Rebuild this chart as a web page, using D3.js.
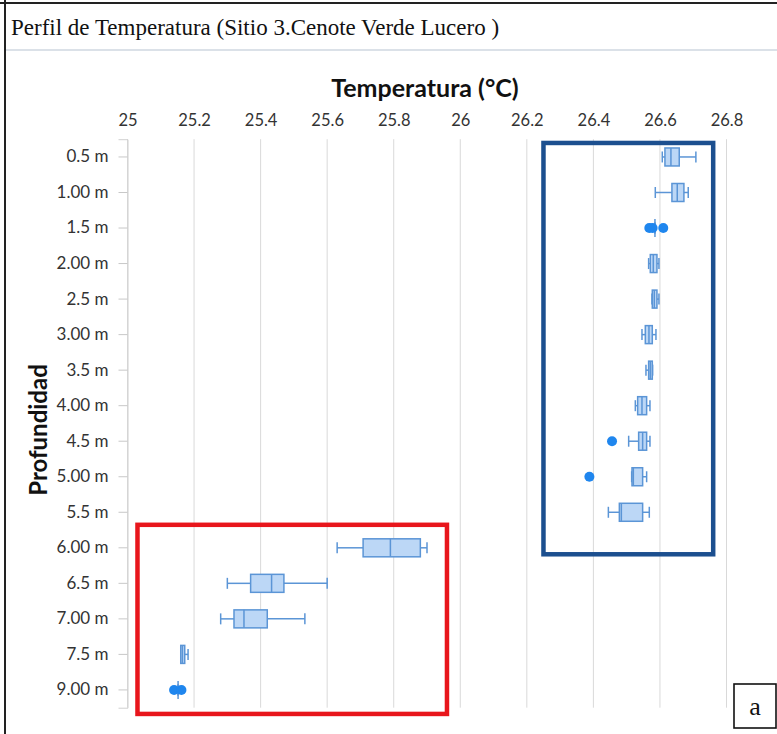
<!DOCTYPE html>
<html>
<head>
<meta charset="utf-8">
<script src="https://cdn.jsdelivr.net/npm/d3@7"></script>
<style>
  html, body { margin: 0; padding: 0; background: #fff; }
  svg { display: block; }
</style>
</head>
<body>
<svg id="chart" width="777" height="734"></svg>
<script>
// ---- Data ----
const categories = ["0.5 m","1.00 m","1.5 m","2.00 m","2.5 m","3.00 m","3.5 m","4.00 m","4.5 m","5.00 m","5.5 m","6.00 m","6.5 m","7.00 m","7.5 m","9.00 m"];
const whiskerLow  = [26.607, 26.586, 26.585, 26.566, 26.576, 26.546, 26.558, 26.526, 26.506, 26.515, 26.445, 25.630, 25.300, 25.280, 25.160, 25.152];
const q1          = [26.615, 26.636, 26.585, 26.571, 26.577, 26.556, 26.566, 26.533, 26.536, 26.516, 26.478, 25.708, 25.370, 25.320, 25.160, 25.152];
const median      = [26.633, 26.652, 26.585, 26.580, 26.583, 26.567, 26.571, 26.546, 26.548, 26.520, 26.484, 25.790, 25.433, 25.350, 25.165, 25.152];
const q3          = [26.658, 26.672, 26.585, 26.591, 26.591, 26.577, 26.577, 26.560, 26.560, 26.548, 26.548, 25.880, 25.470, 25.420, 25.172, 25.152];
const whiskerHigh = [26.708, 26.685, 26.585, 26.597, 26.597, 26.588, 26.578, 26.570, 26.570, 26.560, 26.568, 25.900, 25.600, 25.533, 25.182, 25.152];
const outliers    = [[], [], [26.568, 26.578, 26.610], [], [], [], [], [], [26.456], [26.388], [], [], [], [], [], [25.140, 25.162]];
const tickValues  = [25, 25.2, 25.4, 25.6, 25.8, 26, 26.2, 26.4, 26.6, 26.8];
const tickLabels  = ["25", "25.2", "25.4", "25.6", "25.8", "26", "26.2", "26.4", "26.6", "26.8"];
const titleText = "Perfil de Temperatura (Sitio 3.Cenote Verde Lucero )";
const xTitle = "Temperatura (°C)";
const yTitle = "Profundidad";
// highlight regions (temperature range, first/last depth category)
const blueRegion = { x0: 26.25, x1: 26.76, c0: "0.5 m", c1: "5.5 m" };
const redRegion  = { x0: 25.03, x1: 25.96, c0: "6.00 m", c1: "9.00 m" };

const svg = d3.select("#chart");
const W = 777, H = 734;
svg.append("rect").attr("width", W).attr("height", H).attr("fill", "#fff");

// outer frame
svg.append("line").attr("x1", 0).attr("x2", W).attr("y1", 3).attr("y2", 3).attr("stroke", "#222").attr("stroke-width", 2);
svg.append("line").attr("x1", 5).attr("x2", 5).attr("y1", 0).attr("y2", H).attr("stroke", "#222").attr("stroke-width", 2);
// title
svg.append("text").attr("x", 11).attr("y", 35)
  .attr("font-family", "Liberation Serif, Times New Roman, serif").attr("font-size", 23)
  .attr("fill", "#111").text(titleText);
svg.append("line").attr("x1", 6).attr("x2", W).attr("y1", 50).attr("y2", 50).attr("stroke", "#b8c4d2").attr("stroke-width", 1.2);

// scales
const x = d3.scaleLinear().domain([25, 26.8]).range([127.5, 726.5]);
const y = d3.scaleBand().domain(categories).range([139.2, 707.7]).padding(0);
const yc = c => y(c) + y.bandwidth() / 2;
const plotTop = 139.2, plotBottom = 707.7;

const font = "Lato, 'Open Sans', sans-serif";

// gridlines
svg.append("g").selectAll("line").data(tickValues).join("line")
  .attr("x1", d => x(d)).attr("x2", d => x(d))
  .attr("y1", plotTop).attr("y2", plotBottom)
  .attr("stroke", "#d9d9d9").attr("stroke-width", 1);

// top axis
const xAxis = svg.append("g").attr("transform", `translate(0,${plotTop})`)
  .call(d3.axisTop(x).tickValues(tickValues).tickFormat((d, i) => tickLabels[i]).tickSize(0).tickPadding(13));
xAxis.select(".domain").remove();
xAxis.selectAll("text").attr("font-family", font).attr("font-size", 16.5).attr("fill", "#333");

// left axis
const yAxis = svg.append("g").attr("transform", `translate(${x(25)},0)`)
  .call(d3.axisLeft(y).tickSize(9).tickPadding(10));
yAxis.select(".domain").attr("stroke", "#d0d0d0");
yAxis.selectAll(".tick line").attr("stroke", "#c8c8c8");
yAxis.selectAll("text").attr("font-family", font).attr("font-size", 17).attr("fill", "#333");

// axis titles
svg.append("text").attr("x", 425).attr("y", 97).attr("text-anchor", "middle")
  .attr("font-family", font).attr("font-weight", "bold").attr("font-size", 25).attr("fill", "#111").text(xTitle);
svg.append("text").attr("transform", `translate(47,430) rotate(-90)`).attr("text-anchor", "middle")
  .attr("font-family", font).attr("font-weight", "bold").attr("font-size", 24).attr("fill", "#111").text(yTitle);

// boxes
const boxH = 18, capH = 11;
const stroke = "#5b95d6", fill = "#bcd7f6";
const g = svg.append("g");
categories.forEach((c, i) => {
  const cy = yc(c);
  const gb = g.append("g");
  gb.append("line").attr("x1", x(whiskerLow[i])).attr("x2", x(q1[i])).attr("y1", cy).attr("y2", cy).attr("stroke", stroke).attr("stroke-width", 1.5);
  gb.append("line").attr("x1", x(q3[i])).attr("x2", x(whiskerHigh[i])).attr("y1", cy).attr("y2", cy).attr("stroke", stroke).attr("stroke-width", 1.5);
  [whiskerLow[i], whiskerHigh[i]].forEach(v => {
    gb.append("line").attr("x1", x(v)).attr("x2", x(v)).attr("y1", cy - capH / 2).attr("y2", cy + capH / 2).attr("stroke", stroke).attr("stroke-width", 1.5);
  });
  const bw = x(q3[i]) - x(q1[i]);
  if (bw > 0.5) {
    gb.append("rect").attr("x", x(q1[i])).attr("y", cy - boxH / 2).attr("width", bw).attr("height", boxH)
      .attr("fill", fill).attr("stroke", stroke).attr("stroke-width", 1.5);
    gb.append("line").attr("x1", x(median[i])).attr("x2", x(median[i])).attr("y1", cy - boxH / 2).attr("y2", cy + boxH / 2)
      .attr("stroke", stroke).attr("stroke-width", 1.5);
  } else {
    gb.append("line").attr("x1", x(median[i])).attr("x2", x(median[i])).attr("y1", cy - 9).attr("y2", cy + 9)
      .attr("stroke", stroke).attr("stroke-width", 1.5);
  }
  outliers[i].forEach(v => {
    gb.append("circle").attr("cx", x(v)).attr("cy", cy).attr("r", 5).attr("fill", "#1f86ee");
  });
});

// highlight rectangles
function region(r, color, w, topOff, botOff) {
  const y0 = yc(r.c0) - topOff, y1 = yc(r.c1) + botOff;
  svg.append("rect").attr("x", x(r.x0)).attr("y", y0).attr("width", x(r.x1) - x(r.x0)).attr("height", y1 - y0)
    .attr("fill", "none").attr("stroke", color).attr("stroke-width", w);
}
region(blueRegion, "#1c4f8f", 4.5, 14, 42);
region(redRegion, "#e8161c", 4.5, 23, 24);

// panel letter
svg.append("rect").attr("x", 734).attr("y", 684).attr("width", 42).attr("height", 44)
  .attr("fill", "#fff").attr("stroke", "#111").attr("stroke-width", 1.6);
svg.append("text").attr("x", 755).attr("y", 715).attr("text-anchor", "middle")
  .attr("font-family", "Liberation Serif, Times New Roman, serif").attr("font-size", 26).attr("fill", "#111").text("a");
</script>
</body>
</html>
